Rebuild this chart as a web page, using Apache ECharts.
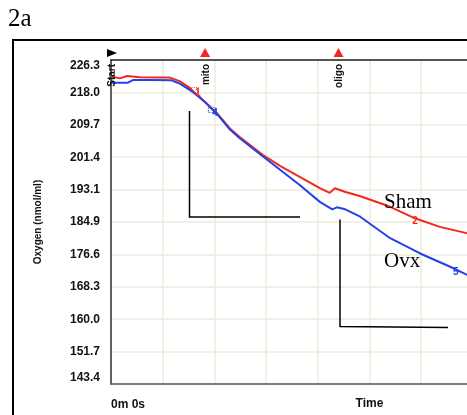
<!DOCTYPE html>
<html>
<head>
<meta charset="utf-8">
<script src="https://cdn.jsdelivr.net/npm/echarts@6/dist/echarts.min.js"></script>
<style>
  html, body { margin: 0; padding: 0; background: #fff; }
  #main { width: 467px; height: 415px; }
</style>
</head>
<body>
<div id="main"></div>
<script>
// y axis ticks, nmol/ml
var yTickLabels = ['143.4', '151.7', '160.0', '168.3', '176.6', '184.9', '193.1', '201.4', '209.7', '218.0', '226.3'];
var Y_MIN = 143.4;
var Y_STEP = 8.29;
var xTickLabels = ['0m 0s'];

// Sham trace (red)
var shamTime = [0, 0.17, 0.31, 0.56, 0.95, 1.14, 1.34, 1.53, 1.66, 1.85, 2.05, 2.30, 2.49, 2.94, 3.27, 3.65, 4.04, 4.23, 4.33, 4.52, 4.81, 5.39, 5.88, 6.36, 6.88, 7.0];
var shamO2 = [222.1, 221.6, 222.2, 221.9, 221.8, 221.8, 220.8, 219.1, 217.3, 215.2, 212.7, 208.8, 206.6, 202.0, 199.2, 196.4, 193.5, 192.3, 193.5, 192.6, 191.5, 188.8, 185.8, 183.6, 182.0, 181.6];

// Ovx trace (blue)
var ovxTime = [0, 0.33, 0.43, 0.75, 1.17, 1.34, 1.53, 1.72, 2.05, 2.30, 2.49, 2.94, 3.27, 3.65, 4.04, 4.28, 4.37, 4.53, 4.82, 5.40, 5.98, 6.56, 6.89, 7.0];
var ovxO2 = [220.5, 220.5, 221.2, 221.2, 221.1, 220.2, 218.6, 216.8, 212.5, 208.5, 206.3, 201.6, 198.2, 194.3, 190.0, 188.1, 188.6, 188.1, 186.2, 180.7, 176.8, 173.4, 171.3, 170.6];

// numbered marks on the traces
var shamMarkTime = [1.68, 5.88];
var shamMarkO2 = [217.9, 185.1];
var shamMarkText = ['1', '2'];
var ovxMarkTime = [2.01, 6.67];
var ovxMarkO2 = [212.7, 172.1];
var ovxMarkText = ['4', '5'];

// injections
var eventNames = ['Start', 'mito', 'oligo'];
var eventTimes = [0, 1.82, 4.40];

var RED = '#f2281c';
var BLUE = '#2640e8';

function toPoints(t, v) {
  var out = [];
  for (var i = 0; i < t.length; i++) out.push([t[i], v[i] - Y_MIN]);
  return out;
}

function marks(t, v, txt, color) {
  return t.map(function (x, i) {
    var item = { name: txt[i], coord: [x, v[i] - Y_MIN] };
    if (i === 0) {
      item.symbol = 'rect';
      item.symbolSize = [7, 5];
      item.symbolOffset = [-3, -3];
      item.itemStyle = { color: 'rgba(0,0,0,0)', borderColor: color, borderType: 'dotted', borderWidth: 1 };
      item.label = { offset: [3, 3] };
    }
    return item;
  });
}

function traceSeries(name, t, v, mt, mv, mtxt, color) {
  return {
    name: name,
    type: 'line',
    data: toPoints(t, v),
    showSymbol: false,
    lineStyle: { color: color, width: 2 },
    itemStyle: { color: color },
    z: 3,
    markPoint: {
      symbol: 'rect',
      symbolSize: 0,
      silent: true,
      label: { show: true, formatter: '{b}', color: color, fontSize: 10, fontWeight: 'bold', position: 'inside' },
      data: marks(mt, mv, mtxt, color)
    }
  };
}

var chart = echarts.init(document.getElementById('main'));

var option = {
  backgroundColor: '#fff',
  animation: false,
  grid: { left: 111, top: 60, width: 517, height: 324, outerBoundsMode: 'none', containLabel: false },
  xAxis: [{
    type: 'value',
    min: 0,
    max: 10,
    interval: 1,
    name: 'Time',
    nameLocation: 'middle',
    nameGap: 14,
    nameMoveOverlap: false,
    nameTextStyle: { fontFamily: 'Liberation Sans, Arial', fontWeight: 'bold', fontSize: 12, color: '#111' },
    axisLine: { show: true, lineStyle: { color: '#555', width: 1.5 } },
    axisTick: { show: false },
    axisLabel: {
      margin: 15,
      align: 'left',
      fontFamily: 'Liberation Sans, Arial',
      fontWeight: 'bold',
      fontSize: 12,
      color: '#111',
      formatter: function (v) { return xTickLabels[Math.round(v)] || ''; }
    },
    splitLine: { show: true, lineStyle: { color: '#ecebdc', width: 1.5 } }
  }, {
    type: 'value',
    position: 'top',
    min: 0,
    max: 10,
    axisLine: { show: true, lineStyle: { color: '#222', width: 1.5 } },
    axisTick: { show: false },
    axisLabel: { show: false },
    splitLine: { show: false }
  }],
  yAxis: {
    type: 'value',
    min: 0,
    max: Y_STEP * 10,
    interval: Y_STEP,
    name: 'Oxygen (nmol/ml)',
    nameLocation: 'middle',
    nameGap: 68,
    nameMoveOverlap: false,
    nameTextStyle: { fontFamily: 'Liberation Sans, Arial', fontWeight: 'bold', fontSize: 10, color: '#111' },
    axisLine: { show: true, lineStyle: { color: '#333', width: 1.5 } },
    axisTick: { show: false },
    axisLabel: {
      margin: 11,
      fontFamily: 'Liberation Sans, Arial',
      fontWeight: 'bold',
      fontSize: 12,
      color: '#111',
      verticalAlignMaxLabel: 'top',
      verticalAlignMinLabel: 'bottom',
      formatter: function (v) { return yTickLabels[Math.round(v / Y_STEP)]; }
    },
    splitLine: { show: true, lineStyle: { color: '#ecebdc', width: 1.5 } }
  },
  series: [
    traceSeries('Sham', shamTime, shamO2, shamMarkTime, shamMarkO2, shamMarkText, RED),
    traceSeries('Ovx', ovxTime, ovxO2, ovxMarkTime, ovxMarkO2, ovxMarkText, BLUE)
  ]
};

chart.setOption(option);

// overlay: frame, panel label, hand-drawn brackets, group names, injection markers
var gfx = [
  { type: 'rect', shape: { x: 13, y: 40, width: 700, height: 500 }, style: { fill: 'none', stroke: '#000', lineWidth: 2 }, z: 10 },
  { type: 'text', x: 8, y: 19, style: { text: '2a', font: '25px "Liberation Serif", "Times New Roman", serif', fill: '#000', textVerticalAlign: 'middle' } },
  { type: 'polyline', shape: { points: [[189.5, 111], [189.5, 217], [300, 217]] }, style: { stroke: '#000', lineWidth: 1.5, fill: 'none' }, z: 5 },
  { type: 'polyline', shape: { points: [[340, 219.5], [340, 326.5], [448, 327.5]] }, style: { stroke: '#000', lineWidth: 1.5, fill: 'none' }, z: 5 },
  { type: 'text', x: 384, y: 202, style: { text: 'Sham', font: '21px "Liberation Serif", "Times New Roman", serif', fill: '#000', textVerticalAlign: 'middle' }, z: 6 },
  { type: 'text', x: 384, y: 261, style: { text: 'Ovx', font: '21px "Liberation Serif", "Times New Roman", serif', fill: '#000', textVerticalAlign: 'middle' }, z: 6 }
];

eventTimes.forEach(function (t, i) {
  var px = chart.convertToPixel({ xAxisIndex: 0 }, t);
  if (i === 0) {
    gfx.push({ type: 'polygon', shape: { points: [[px - 4, 49], [px - 4, 57], [px + 6, 53]] }, style: { fill: '#000' }, z: 6 });
  } else {
    gfx.push({ type: 'polygon', shape: { points: [[px - 5, 57], [px + 5, 57], [px, 48]] }, style: { fill: RED }, z: 6 });
  }
  gfx.push({
    type: 'text',
    x: px + 1,
    y: 64,
    rotation: Math.PI / 2,
    style: { text: eventNames[i], font: 'bold 10px "Liberation Sans", Arial', fill: '#111', textAlign: 'right', textVerticalAlign: 'middle' },
    z: 6
  });
});

chart.setOption({ graphic: gfx });
</script>
</body>
</html>
